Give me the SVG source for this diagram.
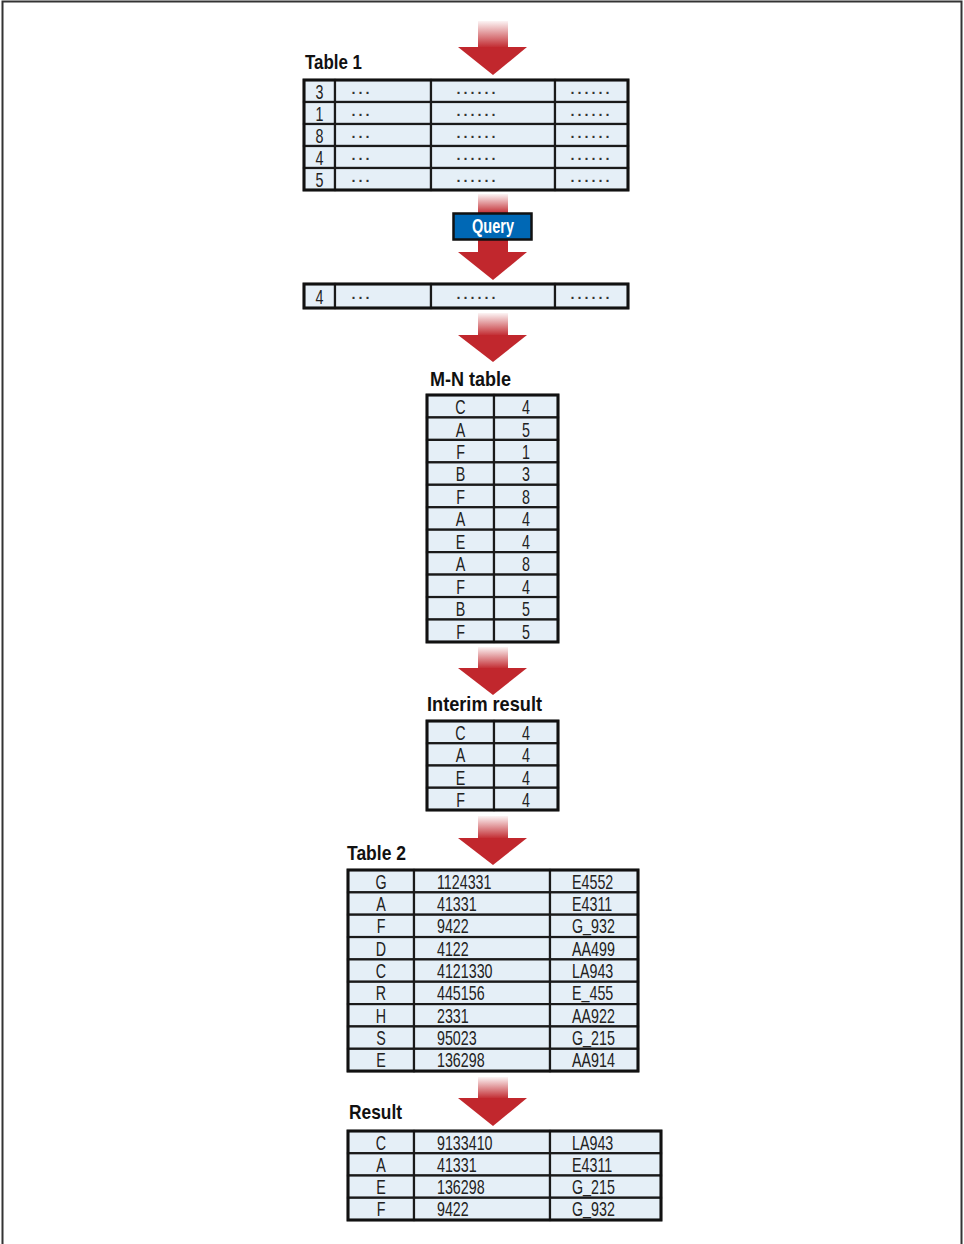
<svg xmlns="http://www.w3.org/2000/svg" width="964" height="1244" viewBox="0 0 964 1244">
<style>
.cell{fill:#e5eff7;stroke:#1a1a1a;stroke-width:2.2}
.outer{fill:none;stroke:#111;stroke-width:3}
.t{font-family:"Liberation Sans",Arial,sans-serif;font-size:21px;fill:#222}
.m{text-anchor:middle}
.d{font-family:"Liberation Sans",Arial,sans-serif;font-size:21px;fill:#333}
.lbl{font-family:"Liberation Sans",Arial,sans-serif;font-size:21px;font-weight:bold;fill:#111}
.head{fill:#c1272d}
</style>
<defs>
<linearGradient id="sg" x1="0" y1="0" x2="0" y2="1">
<stop offset="0" stop-color="#c1272d" stop-opacity="0.05"/>
<stop offset="1" stop-color="#c1272d" stop-opacity="1"/>
</linearGradient>
</defs>
<rect x="2.5" y="1.5" width="959" height="1250" fill="#fff" stroke="#333" stroke-width="2"/>

<g id="connectors">
<rect x="478" y="21" width="30" height="27" fill="url(#sg)"/>
<polygon class="head" points="458,47 527,47 493,75"/>
<rect x="478" y="194" width="30" height="20" fill="url(#sg)"/>
<rect x="478" y="238" width="30" height="15" fill="#c1272d"/>
<polygon class="head" points="458,252 527,252 493,280"/>
<rect x="478" y="313" width="30" height="23" fill="url(#sg)"/>
<polygon class="head" points="458,335 527,335 493,362"/>
<rect x="478" y="647" width="30" height="22" fill="url(#sg)"/>
<polygon class="head" points="458,668 527,668 493,695"/>
<rect x="478" y="816" width="30" height="23" fill="url(#sg)"/>
<polygon class="head" points="458,838 527,838 493,865"/>
<rect x="478" y="1077" width="30" height="22" fill="url(#sg)"/>
<polygon class="head" points="458,1098 527,1098 493,1126"/>
</g>

<g id="table1">
<text class="lbl" x="305" y="69" textLength="57" lengthAdjust="spacingAndGlyphs">Table 1</text>
<rect class="cell" x="304" y="80" width="31" height="22"/><rect class="cell" x="335" y="80" width="96" height="22"/><rect class="cell" x="431" y="80" width="124" height="22"/><rect class="cell" x="555" y="80" width="73" height="22"/>
<rect class="cell" x="304" y="102" width="31" height="22"/><rect class="cell" x="335" y="102" width="96" height="22"/><rect class="cell" x="431" y="102" width="124" height="22"/><rect class="cell" x="555" y="102" width="73" height="22"/>
<rect class="cell" x="304" y="124" width="31" height="22"/><rect class="cell" x="335" y="124" width="96" height="22"/><rect class="cell" x="431" y="124" width="124" height="22"/><rect class="cell" x="555" y="124" width="73" height="22"/>
<rect class="cell" x="304" y="146" width="31" height="22"/><rect class="cell" x="335" y="146" width="96" height="22"/><rect class="cell" x="431" y="146" width="124" height="22"/><rect class="cell" x="555" y="146" width="73" height="22"/>
<rect class="cell" x="304" y="168" width="31" height="22"/><rect class="cell" x="335" y="168" width="96" height="22"/><rect class="cell" x="431" y="168" width="124" height="22"/><rect class="cell" x="555" y="168" width="73" height="22"/>
<rect class="outer" x="304" y="80" width="324" height="110"/>
<text class="t m" transform="translate(319.5,99) scale(0.68,1)">3</text>
<text class="t m" transform="translate(319.5,121) scale(0.68,1)">1</text>
<text class="t m" transform="translate(319.5,143) scale(0.68,1)">8</text>
<text class="t m" transform="translate(319.5,165) scale(0.68,1)">4</text>
<text class="t m" transform="translate(319.5,187) scale(0.68,1)">5</text>
<text class="d" x="350" y="98">···</text><text class="d m" x="476" y="98">······</text><text class="d m" x="590" y="98">······</text>
<text class="d" x="350" y="120">···</text><text class="d m" x="476" y="120">······</text><text class="d m" x="590" y="120">······</text>
<text class="d" x="350" y="142">···</text><text class="d m" x="476" y="142">······</text><text class="d m" x="590" y="142">······</text>
<text class="d" x="350" y="164">···</text><text class="d m" x="476" y="164">······</text><text class="d m" x="590" y="164">······</text>
<text class="d" x="350" y="186">···</text><text class="d m" x="476" y="186">······</text><text class="d m" x="590" y="186">······</text>
</g>

<g id="query">
<rect x="453.5" y="213.5" width="78" height="26" fill="#0068b5" stroke="#111" stroke-width="2.5"/>
<text class="lbl m" x="493" y="233" style="fill:#fff" textLength="42" lengthAdjust="spacingAndGlyphs">Query</text>
</g>

<g id="row4">
<rect class="cell" x="304" y="284" width="31" height="24"/><rect class="cell" x="335" y="284" width="96" height="24"/><rect class="cell" x="431" y="284" width="124" height="24"/><rect class="cell" x="555" y="284" width="73" height="24"/>
<rect class="outer" x="304" y="284" width="324" height="24"/>
<text class="t m" transform="translate(319.5,304) scale(0.68,1)">4</text>
<text class="d" x="350" y="303">···</text><text class="d m" x="476" y="303">······</text><text class="d m" x="590" y="303">······</text>
</g>

<g id="mn-table">
<text class="lbl" x="430" y="386" textLength="81" lengthAdjust="spacingAndGlyphs">M-N table</text>
<rect class="cell" x="427" y="395" width="67" height="22.45"/><rect class="cell" x="494" y="395" width="64" height="22.45"/>
<rect class="cell" x="427" y="417.45" width="67" height="22.45"/><rect class="cell" x="494" y="417.45" width="64" height="22.45"/>
<rect class="cell" x="427" y="439.9" width="67" height="22.45"/><rect class="cell" x="494" y="439.9" width="64" height="22.45"/>
<rect class="cell" x="427" y="462.35" width="67" height="22.45"/><rect class="cell" x="494" y="462.35" width="64" height="22.45"/>
<rect class="cell" x="427" y="484.8" width="67" height="22.45"/><rect class="cell" x="494" y="484.8" width="64" height="22.45"/>
<rect class="cell" x="427" y="507.25" width="67" height="22.45"/><rect class="cell" x="494" y="507.25" width="64" height="22.45"/>
<rect class="cell" x="427" y="529.7" width="67" height="22.45"/><rect class="cell" x="494" y="529.7" width="64" height="22.45"/>
<rect class="cell" x="427" y="552.15" width="67" height="22.45"/><rect class="cell" x="494" y="552.15" width="64" height="22.45"/>
<rect class="cell" x="427" y="574.6" width="67" height="22.45"/><rect class="cell" x="494" y="574.6" width="64" height="22.45"/>
<rect class="cell" x="427" y="597.05" width="67" height="22.45"/><rect class="cell" x="494" y="597.05" width="64" height="22.45"/>
<rect class="cell" x="427" y="619.5" width="67" height="22.45"/><rect class="cell" x="494" y="619.5" width="64" height="22.45"/>
<rect class="outer" x="427" y="395" width="131" height="247"/>
<text class="t m" transform="translate(460.5,414) scale(0.68,1)">C</text><text class="t m" transform="translate(526,414) scale(0.68,1)">4</text>
<text class="t m" transform="translate(460.5,436.5) scale(0.68,1)">A</text><text class="t m" transform="translate(526,436.5) scale(0.68,1)">5</text>
<text class="t m" transform="translate(460.5,459) scale(0.68,1)">F</text><text class="t m" transform="translate(526,459) scale(0.68,1)">1</text>
<text class="t m" transform="translate(460.5,481.4) scale(0.68,1)">B</text><text class="t m" transform="translate(526,481.4) scale(0.68,1)">3</text>
<text class="t m" transform="translate(460.5,503.9) scale(0.68,1)">F</text><text class="t m" transform="translate(526,503.9) scale(0.68,1)">8</text>
<text class="t m" transform="translate(460.5,526.3) scale(0.68,1)">A</text><text class="t m" transform="translate(526,526.3) scale(0.68,1)">4</text>
<text class="t m" transform="translate(460.5,548.8) scale(0.68,1)">E</text><text class="t m" transform="translate(526,548.8) scale(0.68,1)">4</text>
<text class="t m" transform="translate(460.5,571.2) scale(0.68,1)">A</text><text class="t m" transform="translate(526,571.2) scale(0.68,1)">8</text>
<text class="t m" transform="translate(460.5,593.7) scale(0.68,1)">F</text><text class="t m" transform="translate(526,593.7) scale(0.68,1)">4</text>
<text class="t m" transform="translate(460.5,616.1) scale(0.68,1)">B</text><text class="t m" transform="translate(526,616.1) scale(0.68,1)">5</text>
<text class="t m" transform="translate(460.5,638.6) scale(0.68,1)">F</text><text class="t m" transform="translate(526,638.6) scale(0.68,1)">5</text>
</g>

<g id="interim">
<text class="lbl" x="427" y="711" textLength="115" lengthAdjust="spacingAndGlyphs">Interim result</text>
<rect class="cell" x="427" y="721" width="67" height="22.25"/><rect class="cell" x="494" y="721" width="64" height="22.25"/>
<rect class="cell" x="427" y="743.25" width="67" height="22.25"/><rect class="cell" x="494" y="743.25" width="64" height="22.25"/>
<rect class="cell" x="427" y="765.5" width="67" height="22.25"/><rect class="cell" x="494" y="765.5" width="64" height="22.25"/>
<rect class="cell" x="427" y="787.75" width="67" height="22.25"/><rect class="cell" x="494" y="787.75" width="64" height="22.25"/>
<rect class="outer" x="427" y="721" width="131" height="89"/>
<text class="t m" transform="translate(460.5,740) scale(0.68,1)">C</text><text class="t m" transform="translate(526,740) scale(0.68,1)">4</text>
<text class="t m" transform="translate(460.5,762.2) scale(0.68,1)">A</text><text class="t m" transform="translate(526,762.2) scale(0.68,1)">4</text>
<text class="t m" transform="translate(460.5,784.5) scale(0.68,1)">E</text><text class="t m" transform="translate(526,784.5) scale(0.68,1)">4</text>
<text class="t m" transform="translate(460.5,806.7) scale(0.68,1)">F</text><text class="t m" transform="translate(526,806.7) scale(0.68,1)">4</text>
</g>

<g id="table2">
<text class="lbl" x="347" y="860" textLength="59" lengthAdjust="spacingAndGlyphs">Table 2</text>
<rect class="cell" x="348" y="870" width="66" height="22.35"/><rect class="cell" x="414" y="870" width="136" height="22.35"/><rect class="cell" x="550" y="870" width="88" height="22.35"/>
<rect class="cell" x="348" y="892.35" width="66" height="22.35"/><rect class="cell" x="414" y="892.35" width="136" height="22.35"/><rect class="cell" x="550" y="892.35" width="88" height="22.35"/>
<rect class="cell" x="348" y="914.7" width="66" height="22.35"/><rect class="cell" x="414" y="914.7" width="136" height="22.35"/><rect class="cell" x="550" y="914.7" width="88" height="22.35"/>
<rect class="cell" x="348" y="937.05" width="66" height="22.35"/><rect class="cell" x="414" y="937.05" width="136" height="22.35"/><rect class="cell" x="550" y="937.05" width="88" height="22.35"/>
<rect class="cell" x="348" y="959.4" width="66" height="22.35"/><rect class="cell" x="414" y="959.4" width="136" height="22.35"/><rect class="cell" x="550" y="959.4" width="88" height="22.35"/>
<rect class="cell" x="348" y="981.75" width="66" height="22.35"/><rect class="cell" x="414" y="981.75" width="136" height="22.35"/><rect class="cell" x="550" y="981.75" width="88" height="22.35"/>
<rect class="cell" x="348" y="1004.1" width="66" height="22.35"/><rect class="cell" x="414" y="1004.1" width="136" height="22.35"/><rect class="cell" x="550" y="1004.1" width="88" height="22.35"/>
<rect class="cell" x="348" y="1026.45" width="66" height="22.35"/><rect class="cell" x="414" y="1026.45" width="136" height="22.35"/><rect class="cell" x="550" y="1026.45" width="88" height="22.35"/>
<rect class="cell" x="348" y="1048.8" width="66" height="22.35"/><rect class="cell" x="414" y="1048.8" width="136" height="22.35"/><rect class="cell" x="550" y="1048.8" width="88" height="22.35"/>
<rect class="outer" x="348" y="870" width="290" height="201"/>
<text class="t m" transform="translate(381,888.5) scale(0.68,1)">G</text><text class="t" transform="translate(437,888.5) scale(0.68,1)">1124331</text><text class="t" transform="translate(572,888.5) scale(0.68,1)">E4552</text>
<text class="t m" transform="translate(381,910.9) scale(0.68,1)">A</text><text class="t" transform="translate(437,910.9) scale(0.68,1)">41331</text><text class="t" transform="translate(572,910.9) scale(0.68,1)">E4311</text>
<text class="t m" transform="translate(381,933.2) scale(0.68,1)">F</text><text class="t" transform="translate(437,933.2) scale(0.68,1)">9422</text><text class="t" transform="translate(572,933.2) scale(0.68,1)">G<tspan dy="-2.2">_</tspan><tspan dy="2.2">932</tspan></text>
<text class="t m" transform="translate(381,955.6) scale(0.68,1)">D</text><text class="t" transform="translate(437,955.6) scale(0.68,1)">4122</text><text class="t" transform="translate(572,955.6) scale(0.68,1)">AA499</text>
<text class="t m" transform="translate(381,977.9) scale(0.68,1)">C</text><text class="t" transform="translate(437,977.9) scale(0.68,1)">4121330</text><text class="t" transform="translate(572,977.9) scale(0.68,1)">LA943</text>
<text class="t m" transform="translate(381,1000.3) scale(0.68,1)">R</text><text class="t" transform="translate(437,1000.3) scale(0.68,1)">445156</text><text class="t" transform="translate(572,1000.3) scale(0.68,1)">E<tspan dy="-2.2">_</tspan><tspan dy="2.2">455</tspan></text>
<text class="t m" transform="translate(381,1022.6) scale(0.68,1)">H</text><text class="t" transform="translate(437,1022.6) scale(0.68,1)">2331</text><text class="t" transform="translate(572,1022.6) scale(0.68,1)">AA922</text>
<text class="t m" transform="translate(381,1045) scale(0.68,1)">S</text><text class="t" transform="translate(437,1045) scale(0.68,1)">95023</text><text class="t" transform="translate(572,1045) scale(0.68,1)">G<tspan dy="-2.2">_</tspan><tspan dy="2.2">215</tspan></text>
<text class="t m" transform="translate(381,1067.3) scale(0.68,1)">E</text><text class="t" transform="translate(437,1067.3) scale(0.68,1)">136298</text><text class="t" transform="translate(572,1067.3) scale(0.68,1)">AA914</text>
</g>

<g id="result">
<text class="lbl" x="349" y="1119" textLength="53" lengthAdjust="spacingAndGlyphs">Result</text>
<rect class="cell" x="348" y="1131" width="66" height="22.25"/><rect class="cell" x="414" y="1131" width="136" height="22.25"/><rect class="cell" x="550" y="1131" width="111" height="22.25"/>
<rect class="cell" x="348" y="1153.25" width="66" height="22.25"/><rect class="cell" x="414" y="1153.25" width="136" height="22.25"/><rect class="cell" x="550" y="1153.25" width="111" height="22.25"/>
<rect class="cell" x="348" y="1175.5" width="66" height="22.25"/><rect class="cell" x="414" y="1175.5" width="136" height="22.25"/><rect class="cell" x="550" y="1175.5" width="111" height="22.25"/>
<rect class="cell" x="348" y="1197.75" width="66" height="22.25"/><rect class="cell" x="414" y="1197.75" width="136" height="22.25"/><rect class="cell" x="550" y="1197.75" width="111" height="22.25"/>
<rect class="outer" x="348" y="1131" width="313" height="89"/>
<text class="t m" transform="translate(381,1149.5) scale(0.68,1)">C</text><text class="t" transform="translate(437,1149.5) scale(0.68,1)">9133410</text><text class="t" transform="translate(572,1149.5) scale(0.68,1)">LA943</text>
<text class="t m" transform="translate(381,1171.7) scale(0.68,1)">A</text><text class="t" transform="translate(437,1171.7) scale(0.68,1)">41331</text><text class="t" transform="translate(572,1171.7) scale(0.68,1)">E4311</text>
<text class="t m" transform="translate(381,1194) scale(0.68,1)">E</text><text class="t" transform="translate(437,1194) scale(0.68,1)">136298</text><text class="t" transform="translate(572,1194) scale(0.68,1)">G<tspan dy="-2.2">_</tspan><tspan dy="2.2">215</tspan></text>
<text class="t m" transform="translate(381,1216.2) scale(0.68,1)">F</text><text class="t" transform="translate(437,1216.2) scale(0.68,1)">9422</text><text class="t" transform="translate(572,1216.2) scale(0.68,1)">G<tspan dy="-2.2">_</tspan><tspan dy="2.2">932</tspan></text>
</g>
</svg>
